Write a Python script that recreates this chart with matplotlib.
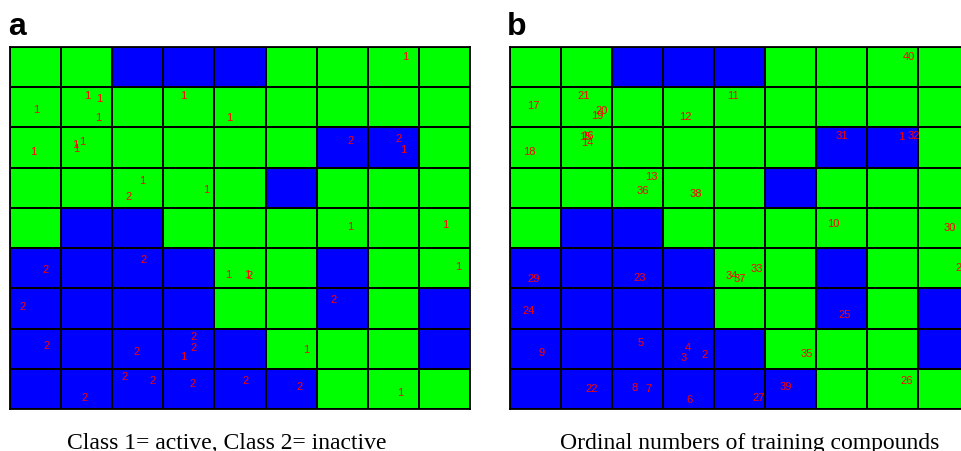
import matplotlib
matplotlib.use("Agg")
import matplotlib.pyplot as plt
import numpy as np
from matplotlib.colors import ListedColormap

# SOM map: 1 = active node (green), 2 = inactive node (blue); rows top -> bottom
som_map = [
    [1, 1, 2, 2, 2, 1, 1, 1, 1],
    [1, 1, 1, 1, 1, 1, 1, 1, 1],
    [1, 1, 1, 1, 1, 1, 2, 2, 1],
    [1, 1, 1, 1, 1, 2, 1, 1, 1],
    [1, 2, 2, 1, 1, 1, 1, 1, 1],
    [2, 2, 2, 2, 1, 1, 2, 1, 1],
    [2, 2, 2, 2, 1, 1, 2, 1, 2],
    [2, 2, 2, 2, 2, 1, 1, 1, 2],
    [2, 2, 2, 2, 2, 2, 1, 1, 1],
]

# training compounds 1..40 and their class
compounds = list(range(1, 41))
classes = [1, 1, 2, 2, 2, 2, 2, 2, 2, 1,
           1, 1, 1, 1, 1, 1, 1, 1, 1, 1,
           1, 2, 2, 2, 2, 1, 2, 1, 2, 1,
           2, 2, 1, 1, 1, 2, 2, 1, 2, 1]

# where each compound lands on the map (grid units, x left->right, y top->bottom)
pos_a_x = [7.69, 3.39, 3.60, 3.60, 2.47, 3.58, 2.78, 2.25, 0.72, 6.65,
           4.29, 3.39, 2.58, 1.29, 1.27, 1.41, 0.51, 0.45, 1.72, 1.74,
           1.51, 1.45, 2.62, 0.25, 6.34, 7.63, 4.60, 8.77, 0.70, 8.51,
           6.67, 7.61, 4.64, 4.27, 5.79, 2.31, 4.68, 3.84, 5.66, 7.73]
pos_a_y = [2.54, 7.69, 7.46, 7.19, 7.56, 8.36, 8.28, 8.18, 7.41, 4.45,
           1.74, 1.19, 3.31, 2.51, 2.41, 2.34, 1.54, 2.59, 1.74, 1.27,
           1.19, 8.71, 5.27, 6.44, 6.27, 8.58, 8.28, 5.45, 5.52, 4.40,
           2.31, 2.26, 5.65, 5.65, 7.51, 3.71, 5.67, 3.53, 8.43, 0.22]

pos_b_x = [7.68, 3.83, 3.42, 3.50, 2.58, 3.52, 2.72, 2.46, 0.62, 6.34,
           4.38, 3.44, 2.78, 1.52, 1.48, 1.52, 0.46, 0.38, 1.72, 1.81,
           1.46, 1.62, 2.56, 0.38, 6.58, 7.79, 4.89, 8.87, 0.48, 8.64,
           6.52, 7.93, 4.85, 4.36, 5.83, 2.62, 4.52, 3.66, 5.42, 7.83]
pos_b_y = [2.21, 7.64, 7.71, 7.46, 7.34, 8.76, 8.48, 8.46, 7.59, 4.38,
           1.19, 1.72, 3.21, 2.36, 2.21, 2.19, 1.44, 2.59, 1.69, 1.57,
           1.19, 8.48, 5.72, 6.54, 6.64, 8.28, 8.71, 5.47, 5.75, 4.48,
           2.19, 2.19, 5.50, 5.67, 7.61, 3.56, 5.75, 3.63, 8.43, 0.22]

caption_a = "Class 1= active, Class 2= inactive"
caption_b = "Ordinal numbers of training compounds"

W, H = 961, 452
fig = plt.figure(figsize=(W / 100, H / 100), dpi=100)
cmap = ListedColormap(["#00ff00", "#0000ff"])


def draw_map(ax, xs, ys, labels):
    grid = np.array(som_map)
    ax.pcolormesh(grid, cmap=cmap, vmin=1, vmax=2,
                  edgecolors="black", linewidth=1.1)
    ax.set_xlim(0, grid.shape[1])
    ax.set_ylim(grid.shape[0], 0)
    ax.set_xticks([])
    ax.set_yticks([])
    for sp in ax.spines.values():
        sp.set_linewidth(1.3)
    for x, y, lab in zip(xs, ys, labels):
        ax.text(x, y, str(lab), color="#ff0000", fontsize=8,
                family="Liberation Sans", ha="center", va="center")


ax_a = fig.add_axes([10 / W, 42 / H, 460 / W, 362 / H])
draw_map(ax_a, pos_a_x, pos_a_y, classes)

ax_b = fig.add_axes([509.5 / W, 42 / H, 459 / W, 362 / H])
draw_map(ax_b, pos_b_x, pos_b_y, compounds)

fig.text(8 / W, 1 - 35 / H, "a", fontsize=23, fontweight="bold",
         family="Liberation Sans", ha="left", va="baseline")
fig.text(507 / W, 1 - 35 / H, "b", fontsize=23, fontweight="bold",
         family="Liberation Sans", ha="left", va="baseline")

fig.text(226.5 / W, 1 - 449 / H, caption_a, fontsize=17,
         family="Liberation Serif", ha="center", va="baseline")
fig.text(749.5 / W, 1 - 449 / H, caption_b, fontsize=17,
         family="Liberation Serif", ha="center", va="baseline")

fig.savefig("out.png", dpi=100)
